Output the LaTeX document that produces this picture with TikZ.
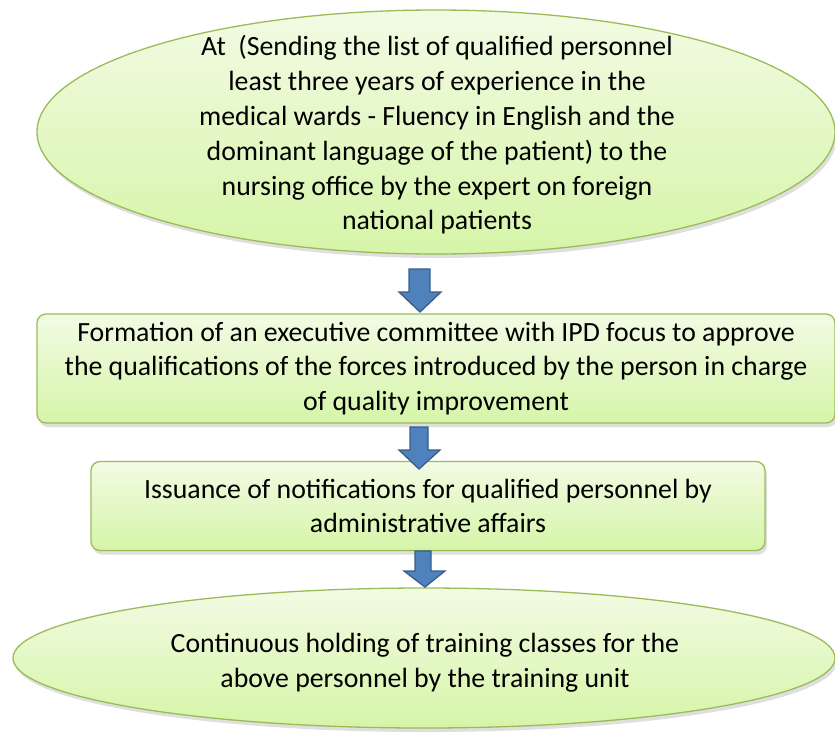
\documentclass[tikz,border=0pt]{standalone}
\usepackage{fontspec}
\setmainfont{Carlito}
\usetikzlibrary{shapes.geometric,shadows}
\definecolor{boxtop}{RGB}{242,251,228}
\definecolor{boxbot}{RGB}{214,245,168}
\definecolor{boxedge}{RGB}{155,187,89}
\definecolor{arrfill}{RGB}{79,129,189}
\definecolor{arredge}{RGB}{56,93,138}
\tikzset{
  boxfont/.style={font=\fontsize{27.8}{34.8}\selectfont},
  shade box/.style={draw=boxedge, line width=1.3pt, top color=boxtop, bottom color=boxbot,
    drop shadow={opacity=0.25, shadow xshift=2pt, shadow yshift=-4pt},
    inner sep=0pt, align=center, boxfont},
  ellbox/.style={shade box, ellipse},
  rbox/.style={shade box, rectangle, rounded corners=9pt},
  blockarrow/.style={draw=arredge, fill=arrfill, line width=1.3pt, line join=miter}
}
\begin{document}
\begin{tikzpicture}[x=1pt,y=-1pt]
\useasboundingbox (0,0) rectangle (835,732);
\node[ellbox, minimum width=798pt, minimum height=244pt] (e1) at (436,132) {};
\node[align=center, boxfont] (t1) at (437,135)
  {At\ \ (Sending the list of qualified personnel\\least three years of experience in the\\medical wards - Fluency in English and the\\dominant language of the patient) to the\\nursing office by the expert on foreign\\national patients};
\node[rbox, minimum width=798pt, minimum height=109pt] (b2) at (436,368.5)
  {Formation of an executive committee with IPD focus to approve\\the qualifications of the forces introduced by the person in charge\\of quality improvement};
\node[rbox, minimum width=674pt, minimum height=89pt] (b3) at (428,506)
  {Issuance of notifications for qualified personnel by\\administrative affairs};
\node[ellbox, minimum width=822pt, minimum height=140pt] (e4) at (424,658) {};
\node[align=center, boxfont] (t4) at (425,663)
  {Continuous holding of training classes for the\\above personnel by the training unit};
% block arrows
\draw[blockarrow] (409,269) -- (430,269) -- (430,292) -- (441,292) -- (420,312) -- (399,292) -- (409,292) -- cycle;
\draw[blockarrow] (410,427) -- (428,427) -- (428,450) -- (440,450) -- (419,469) -- (399,450) -- (410,450) -- cycle;
\draw[blockarrow] (415,551) -- (431,551) -- (431,571) -- (445,571) -- (425,587) -- (404,571) -- (415,571) -- cycle;
\end{tikzpicture}
\end{document}
